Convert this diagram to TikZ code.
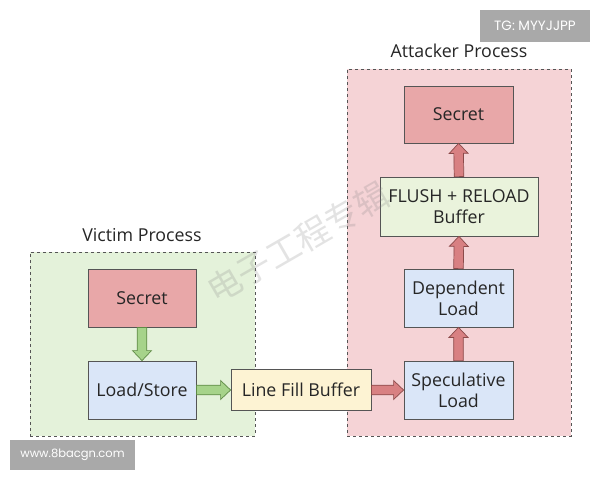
\documentclass[tikz,border=0pt]{standalone}
\usepackage{fontspec}
\setmainfont{Open Sans}
\newfontfamily\badgefont{Poppins}
\newfontfamily\cjk{Noto Sans CJK SC}
\usetikzlibrary{calc}
\definecolor{vicfill}{HTML}{E4F2DA}
\definecolor{attfill}{HTML}{F5D3D6}
\definecolor{secfill}{HTML}{E8A7A8}
\definecolor{bluefill}{HTML}{DAE6F8}
\definecolor{yelfill}{HTML}{FDF3D3}
\definecolor{frfill}{HTML}{EAF3DC}
\definecolor{boxline}{HTML}{555555}
\definecolor{txt}{HTML}{262626}
\definecolor{garfill}{HTML}{A6D38A}
\definecolor{garline}{HTML}{5E8A45}
\definecolor{rarfill}{HTML}{D88082}
\definecolor{rarline}{HTML}{8B4A4A}
\definecolor{badge}{HTML}{A9A9A9}
\newcommand{\blockarrow}[3]{%
  \coordinate (ba-h) at ($(#3)!10pt!(#2)$);
  \draw[#1] ($(#2)!4.8pt!90:(#3)$) -- ($(ba-h)!4.8pt!90:(#3)$) -- ($(ba-h)!9.5pt!90:(#3)$) -- (#3)
    -- ($(ba-h)!9.5pt!-90:(#3)$) -- ($(ba-h)!4.8pt!-90:(#3)$) -- ($(#2)!4.8pt!-90:(#3)$) -- cycle;}
\tikzset{
  panel/.style={draw=boxline, dashed, line width=0.7pt, inner sep=0pt},
  box/.style={draw=boxline, line width=0.8pt, text=txt, align=center, inner sep=2pt,
    font=\fontsize{17.8}{21}\selectfont},
  lbl/.style={text=txt, font=\fontsize{17.8}{21}\selectfont},
  garrow/.style={fill=garfill, draw=garline, line width=0.7pt, line join=miter},
  rarrow/.style={fill=rarfill, draw=rarline, line width=0.7pt, line join=miter},
  badgebox/.style={fill=badge, text=white, inner sep=0pt, font=\badgefont\fontsize{13.5}{15}\selectfont}
}
\begin{document}
\begin{tikzpicture}[x=1pt,y=-1pt]
\useasboundingbox[fill=white] (0,0) rectangle (600,480);
% panels
\node[panel, fill=vicfill, minimum width=225, minimum height=184] (victim) at (142.5,344) {};
\node[panel, fill=attfill, minimum width=224, minimum height=367] (attacker) at (459,252.5) {};
\node[lbl] (vlabel) at (142,235) {Victim Process};
\node[lbl] (alabel) at (459,51) {Attacker Process};
% boxes
\node[box, fill=secfill, minimum width=108, minimum height=58] (sec1) at (142,298) {Secret};
\node[box, fill=bluefill, minimum width=108, minimum height=58] (ls) at (142,390) {Load/Store};
\node[box, fill=yelfill, minimum width=140, minimum height=41] (lfb) at (301,390) {Line Fill Buffer};
\node[box, fill=secfill, minimum width=109, minimum height=57] (sec2) at (458.5,114.5) {Secret};
\node[box, fill=frfill, minimum width=158, minimum height=59] (fr) at (459,206.5) {FLUSH + RELOAD\\Buffer};
\node[box, fill=bluefill, minimum width=109, minimum height=58] (dep) at (458.5,298) {Dependent\\Load};
\node[box, fill=bluefill, minimum width=109, minimum height=58] (spec) at (458.5,390) {Speculative\\Load};
% arrows
\blockarrow{garrow}{sec1.south}{ls.north}
\blockarrow{garrow}{ls.east}{lfb.west}
\blockarrow{rarrow}{lfb.east}{spec.west}
\blockarrow{rarrow}{spec.north}{dep.south}
\blockarrow{rarrow}{dep.north}{fr.south}
\blockarrow{rarrow}{fr.north}{sec2.south}
% badges
\node[badgebox, minimum width=110, minimum height=32] (tg) at (535,26) {TG: MYYJJPP};
\node[badgebox, minimum width=125, minimum height=30, font=\badgefont\fontsize{11.5}{13}\selectfont] (www) at (72.5,455) {www.8bacgn.com};
% faint watermark
\node[rotate=30, text=gray, opacity=0.22, font=\cjk\fontsize{34}{34}\selectfont] (wm) at (298,242) {电子工程专辑};
\end{tikzpicture}
\end{document}
